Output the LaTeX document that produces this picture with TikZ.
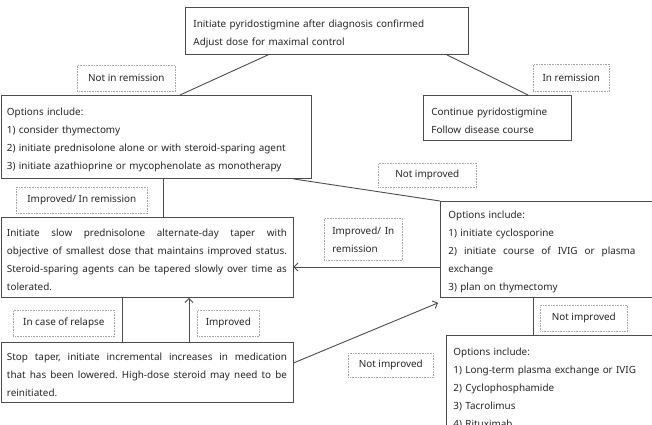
\documentclass[tikz,border=0pt]{standalone}
\usepackage{fontspec}
\setmainfont{Noto Sans}
\usetikzlibrary{arrows.meta,calc}
\newcommand\gp{\hfill}
\newcommand\topstrut{\rule{0pt}{13pt}}
\begin{document}
\begin{tikzpicture}[x=1pt,y=-1pt,
  every node/.style={font=\fontsize{9.9}{18}\selectfont, text=black!85},
  box/.style={draw=black!70, line width=0.9pt, anchor=north west, inner ysep=0pt, align=left},
  lab/.style={draw=black!35, densely dotted, line width=0.6pt, anchor=north west, inner sep=0pt, align=center},
  conn/.style={draw=black!70, line width=0.9pt},
  arr/.style={conn, -{Straight Barb[length=4pt,width=8pt]}}]
\useasboundingbox (0,0) rectangle (652,424);
\clip (0,0) rectangle (652,424);

% boxes
\node[box, inner xsep=8pt, text width=267pt, minimum height=47pt] (top) at (185,7)
  {\topstrut Initiate pyridostigmine after diagnosis confirmed\\Adjust dose for maximal control};
\node[box, inner xsep=6pt, text width=298pt, minimum height=83pt] (opt1) at (0.5,95)
  {\topstrut Options include:\\1) consider thymectomy\\2) initiate prednisolone alone or with steroid-sparing agent\\3) initiate azathioprine or mycophenolate as monotherapy};
\node[box, inner xsep=8pt, text width=132pt, minimum height=45pt] (cont) at (423,95)
  {\topstrut Continue pyridostigmine\\Follow disease course};
\node[box, inner xsep=6pt, text width=280pt, minimum height=80pt] (taper) at (0.5,217)
  {\topstrut Initiate\gp slow\gp prednisolone\gp alternate-day\gp taper\gp with\\
   objective\gp of\gp smallest\gp dose\gp that\gp maintains\gp improved\gp status.\\
   Steroid-sparing\gp agents\gp can\gp be\gp tapered\gp slowly\gp over\gp time\gp as\\
   tolerated.};
\node[box, inner xsep=8pt, text width=196pt, minimum height=96pt] (opt2) at (440,201)
  {\topstrut Options include:\\1) initiate cyclosporine\\
   \makebox[187pt][l]{2)\gp initiate\gp course\gp of\gp IVIG\gp or\gp plasma}\\exchange\\3) plan on thymectomy};
\node[box, inner xsep=6pt, text width=280pt, minimum height=60pt] (stop) at (0.5,342)
  {\topstrut Stop\gp taper,\gp initiate\gp incremental\gp increases\gp in\gp medication\\
   that\gp has\gp been\gp lowered.\gp High-dose\gp steroid\gp may\gp need\gp to\gp be\\
   reinitiated.};
\node[box, inner xsep=7pt, text width=210pt, minimum height=100pt] (opt3) at (446,335)
  {\topstrut Options include:\\1) Long-term plasma exchange or IVIG\\2) Cyclophosphamide\\3) Tacrolimus\\4) Rituximab};

% dotted labels
\node[lab, minimum width=98pt, minimum height=26pt] (l1) at (77,65) {Not in remission};
\node[lab, minimum width=76pt, minimum height=27pt] (l2) at (533,64) {In remission};
\node[lab, minimum width=131pt, minimum height=26pt] (l3) at (16,187) {Improved/ In remission};
\node[lab, minimum width=98pt, minimum height=24pt] (l4) at (378,163) {Not improved};
\node[lab, minimum width=78pt, minimum height=42pt, inner xsep=8pt, text width=62pt, align=left] (l5) at (324,218) {Improved/\gp In\\remission};
\node[lab, minimum width=101pt, minimum height=26pt] (l6) at (13,310) {In case of relapse};
\node[lab, minimum width=62pt, minimum height=26pt] (l7) at (197,310) {Improved};
\node[lab, minimum width=85pt, minimum height=24pt] (l8) at (348,353) {Not improved};
\node[lab, minimum width=87pt, minimum height=26pt] (l9) at (540,305) {Not improved};

% connectors
\draw[conn] ($(top.south west)+(83,0)$) -- ($(opt1.north west)+(179.5,0)$);
\draw[conn] ($(top.south west)+(262,0)$) -- ($(cont.north west)+(105,0)$);
\draw[conn] ($(opt1.south west)+(162.5,0)$) -- ($(taper.north west)+(162.5,0)$);
\draw[conn] ($(opt1.south east)+(-18,0)$) -- (opt2.north west);
\coordinate (a5) at ($(opt2.north west)+(0,66)$);
\draw[arr] (a5) -- (a5 -| taper.east);
\draw[conn] ($(taper.south west)+(121.5,0)$) -- ($(stop.north west)+(121.5,0)$);
\draw[arr] ($(stop.north west)+(188.5,0)$) -- ($(taper.south west)+(188.5,0)$);
\draw[arr] ($(stop.north east)+(0,21)$) -- ($(opt2.south west)+(-2,5)$);
\draw[conn] ($(opt2.south west)+(93,0)$) -- ($(opt3.north west)+(87,0)$);
\end{tikzpicture}
\end{document}
